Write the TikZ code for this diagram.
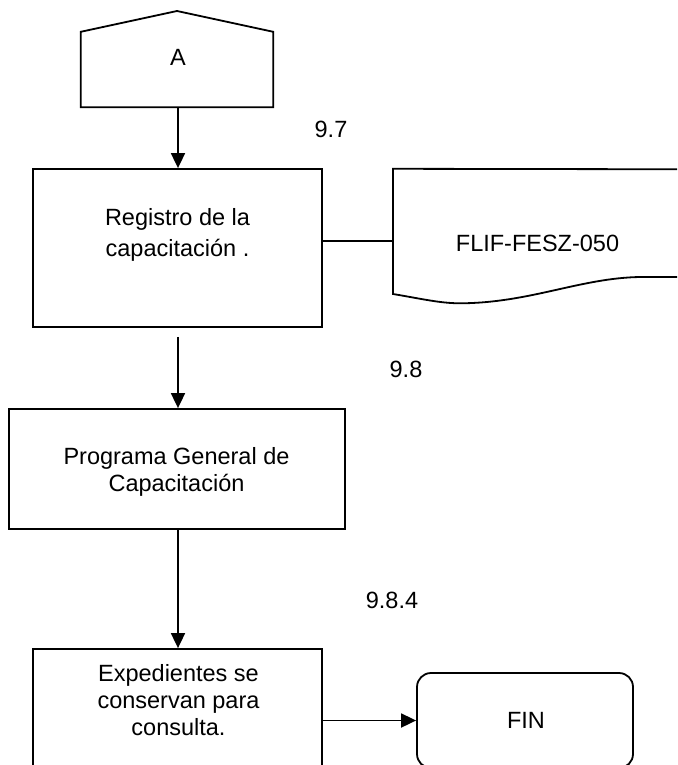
\documentclass[tikz,border=0pt]{standalone}
\usepackage{fontspec}
\setmainfont{Liberation Sans}
\usetikzlibrary{arrows.meta,calc}
\tikzset{
  shp/.style={draw, line width=1.8pt, inner sep=0pt},
  ghost/.style={inner sep=0pt, draw=none},
  txt/.style={anchor=base, inner sep=0pt, font=\fontsize{23.5}{27}\selectfont},
  ln/.style={line width=1.8pt},
  arr/.style={draw, line width=1.8pt, -{Triangle[width=14pt,length=15pt]}},
}
\begin{document}
\begin{tikzpicture}[x=1pt,y=-1pt]
\useasboundingbox (0,0) rectangle (677,765);
\clip (0,0) rectangle (677,765);

% off-page connector A
\node[ghost, minimum width=192pt, minimum height=75pt] (A) at (177,69.5) {};
\draw[ln, line join=miter] (A.south west) -- (A.north west) -- (177,11) -- (A.north east) -- (A.south east) -- cycle;
\node[txt] (At) at (178,66) {A};

% box 1
\node[shp, minimum width=289pt, minimum height=158pt] (B1) at (177.5,248) {};
\node[txt] (B1a) at (177.5,225) {Registro de la};
\node[txt] (B1b) at (177.5,256.5) {capacitación .};

% document
\node[ghost, minimum width=300pt, minimum height=143.4pt, anchor=west] (D) at (393,240.7) {};
\draw[ln] (700,169.3) -- (D.north west) -- (393,294)
  .. controls (420,298.5) and (440,303.3) .. (460,303.3)
  .. controls (530,303) and (580,278) .. (640,277) -- (700,277);
\node[txt] (Dt) at (537.5,251.5) {FLIF-FESZ-050};
\draw[ln] (D.west -| B1.east) -- (D.west);

% box 2
\node[shp, minimum width=336pt, minimum height=120pt] (B2) at (177,469) {};
\node[txt] (B2a) at (176.5,464) {Programa General de};
\node[txt] (B2b) at (176.5,491.7) {Capacitación};

% box 3
\node[shp, minimum width=289pt, minimum height=151pt] (B3) at (177.5,724.5) {};
\node[txt] (B3a) at (178.5,681) {Expedientes se};
\node[txt] (B3b) at (178.5,708.3) {conservan para};
\node[txt] (B3c) at (178.5,735.7) {consulta.};

% FIN
\node[shp, rounded corners=14pt, minimum width=216pt, minimum height=95pt] (F) at (525,720.5) {};
\node[txt] (Ft) at (526,728) {FIN};

% labels
\node[txt] (L1) at (331,138) {9.7};
\node[txt] (L2) at (406,377) {9.8};
\node[txt] (L3) at (392,608) {9.8.4};

% arrows
\coordinate (ax) at (178,0);
\draw[arr] (A.south -| ax) -- (B1.north -| ax);
\draw[arr, shorten <=9pt] (B1.south -| ax) -- (B2.north -| ax);
\draw[arr] (B2.south -| ax) -- (B3.north -| ax);
\draw[arr] (F.west -| B3.east) -- (F.west);
\end{tikzpicture}
\end{document}
